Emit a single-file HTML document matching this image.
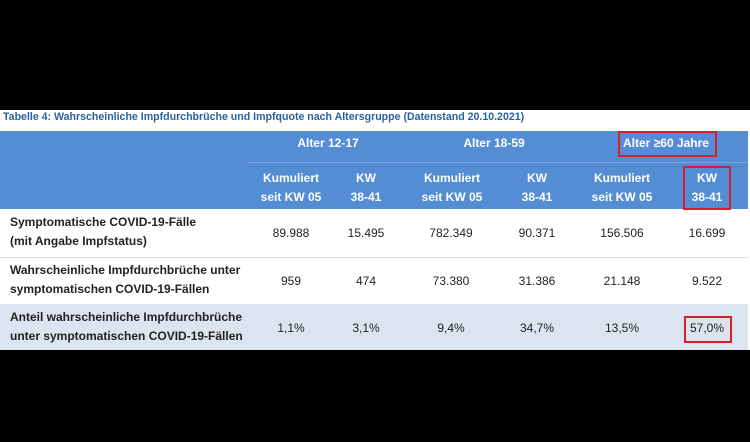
<!DOCTYPE html>
<html><head><style>
body{margin:0;background:#000;width:750px;height:442px;position:relative;overflow:hidden;font-family:"Liberation Sans",sans-serif}
.w{position:absolute;left:0;top:110px;width:750px;height:240px;background:#fff}
.t{position:absolute;left:3px;top:111px;font-size:10.6px;font-weight:bold;color:#2a62a0;white-space:nowrap}
.hd{position:absolute;left:0;top:131px;width:748px;height:78px;background:#548dd4}
.sep{position:absolute;left:248px;top:162px;width:500px;height:1px;background:#7aa6df}
.c{position:absolute;text-align:center;font-size:12px;line-height:19px;transform:translateX(-50%);white-space:nowrap}
.h{color:#fff;font-weight:bold}
.l{position:absolute;left:10px;font-size:12px;line-height:19px;color:#222;font-weight:bold}
.v{color:#222}
.r3{position:absolute;left:0;top:304px;width:748px;height:46px;background:#dce4f0}
.ln{position:absolute;left:0;width:748px;height:1px;background:#d6dfec}
.rb{position:absolute;border:2px solid #d2202f;box-sizing:border-box}
</style></head><body>
<div class="w"></div>
<div class="t">Tabelle 4: Wahrscheinliche Impfdurchbrüche und Impfquote nach Altersgruppe (Datenstand 20.10.2021)</div>
<div class="hd"></div>
<div class="sep"></div>
<div class="c h" style="left:328px;top:134px">Alter 12-17</div>
<div class="c h" style="left:494px;top:134px">Alter 18-59</div>
<div class="c h" style="left:666px;top:134px">Alter ≥60 Jahre</div>
<div class="c h" style="left:291px;top:169px">Kumuliert<br>seit KW 05</div>
<div class="c h" style="left:366px;top:169px">KW<br>38-41</div>
<div class="c h" style="left:452px;top:169px">Kumuliert<br>seit KW 05</div>
<div class="c h" style="left:537px;top:169px">KW<br>38-41</div>
<div class="c h" style="left:622px;top:169px">Kumuliert<br>seit KW 05</div>
<div class="c h" style="left:707px;top:169px">KW<br>38-41</div>
<div class="r3"></div>
<div class="ln" style="top:257px"></div>
<div class="l" style="top:213px">Symptomatische COVID-19-Fälle<br>(mit Angabe Impfstatus)</div>
<div class="l" style="top:261px">Wahrscheinliche Impfdurchbrüche unter<br>symptomatischen COVID-19-Fällen</div>
<div class="l" style="top:308px">Anteil wahrscheinliche Impfdurchbrüche<br>unter symptomatischen COVID-19-Fällen</div>
<div class="c v" style="left:291px;top:224px">89.988</div>
<div class="c v" style="left:366px;top:224px">15.495</div>
<div class="c v" style="left:451px;top:224px">782.349</div>
<div class="c v" style="left:537px;top:224px">90.371</div>
<div class="c v" style="left:622px;top:224px">156.506</div>
<div class="c v" style="left:707px;top:224px">16.699</div>
<div class="c v" style="left:291px;top:272px">959</div>
<div class="c v" style="left:366px;top:272px">474</div>
<div class="c v" style="left:451px;top:272px">73.380</div>
<div class="c v" style="left:537px;top:272px">31.386</div>
<div class="c v" style="left:622px;top:272px">21.148</div>
<div class="c v" style="left:707px;top:272px">9.522</div>
<div class="c v" style="left:291px;top:319px">1,1%</div>
<div class="c v" style="left:366px;top:319px">3,1%</div>
<div class="c v" style="left:451px;top:319px">9,4%</div>
<div class="c v" style="left:537px;top:319px">34,7%</div>
<div class="c v" style="left:622px;top:319px">13,5%</div>
<div class="c v" style="left:707px;top:319px">57,0%</div>
<div class="rb" style="left:618px;top:131px;width:99px;height:26px"></div>
<div class="rb" style="left:683px;top:166px;width:48px;height:44px"></div>
<div class="rb" style="left:684px;top:316px;width:48px;height:27px"></div>
</body></html>
